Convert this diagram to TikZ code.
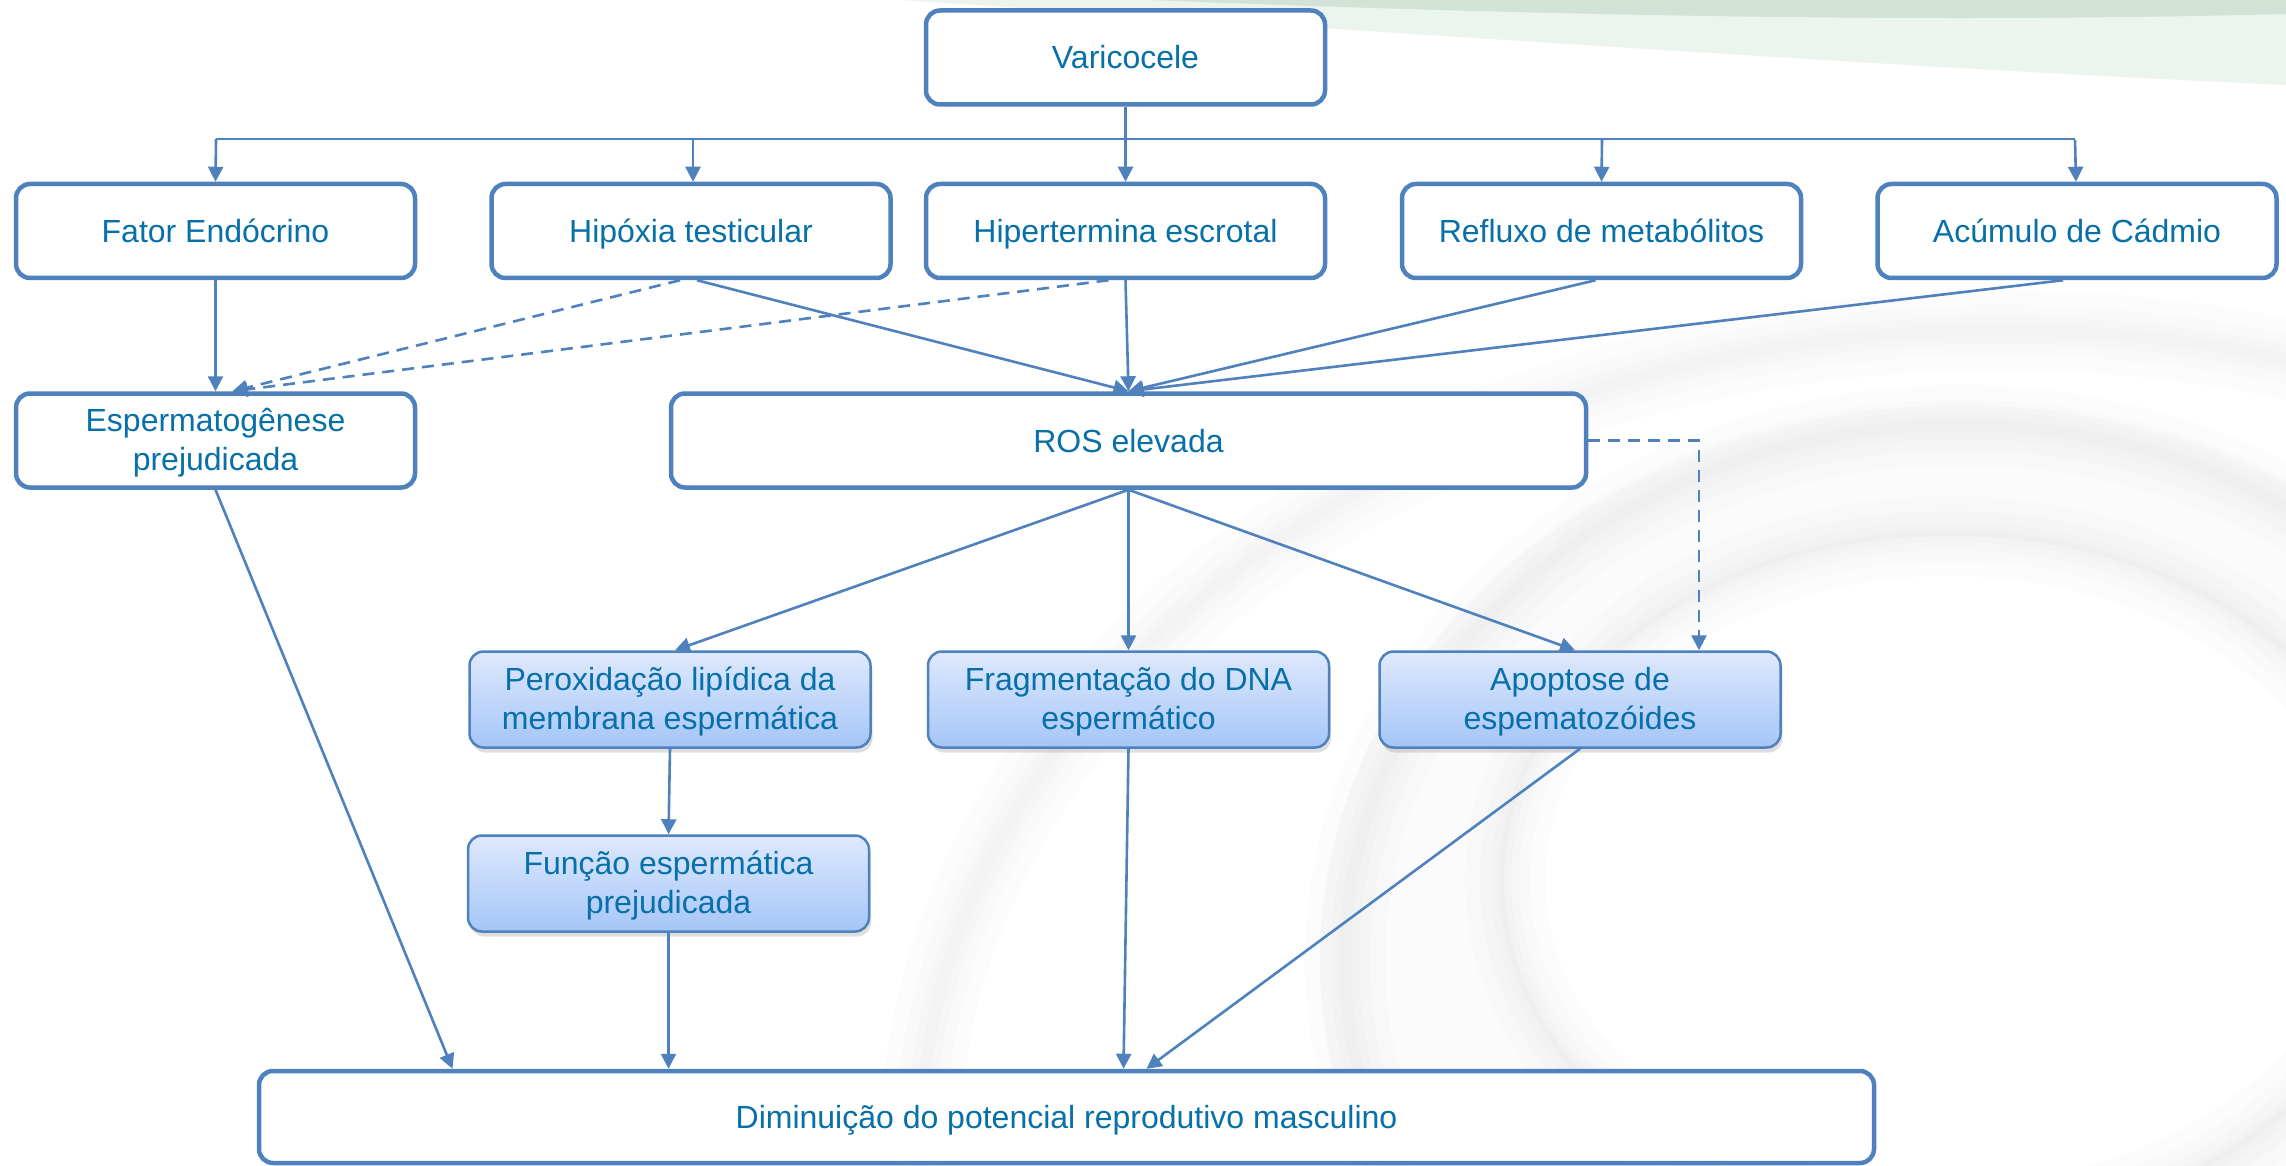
\documentclass[tikz,border=0pt]{standalone}
\usepackage{fontspec}
\setmainfont{Liberation Sans}
\usetikzlibrary{arrows.meta,shadows,calc}
\definecolor{boxblue}{RGB}{79,129,189}
\definecolor{txtblue}{RGB}{8,112,168}
\definecolor{gtop}{RGB}{222,233,252}
\definecolor{gbot}{RGB}{165,198,248}
\definecolor{bgreen}{RGB}{190,214,198}
\definecolor{lgreen}{RGB}{236,244,238}
\definecolor{rimgray}{RGB}{150,148,140}
\tikzset{
  base/.style={rounded corners=14pt, align=center, text=txtblue, inner sep=0pt,
    font=\fontsize{32}{38.4}\selectfont},
  one/.style={text height=23pt, text depth=0pt},
  two/.style={text height=59pt, text depth=0pt},
  topbox/.style={base, draw=boxblue, line width=4.5pt, fill=white,
    minimum width=399pt, minimum height=94pt},
  gradbox/.style={base, draw=boxblue, line width=2.5pt, top color=gtop, bottom color=gbot,
    minimum width=401pt, minimum height=96pt,
    drop shadow={opacity=0.25, shadow xshift=2pt, shadow yshift=-5pt}},
  conn/.style={draw=boxblue, line width=2.6pt, -{Triangle[length=15pt,width=15pt]}},
  dconn/.style={conn, dash pattern=on 12pt off 8pt},
  bar/.style={draw=boxblue, line width=2pt},
  rim/.style={draw=rimgray, draw opacity=0.022}
}
\begin{document}
\begin{tikzpicture}[x=1pt,y=-1pt]
\useasboundingbox (0,0) rectangle (2286,1166);
% background
\fill[white] (0,0) rectangle (2286,1166);
\begin{scope}
  \clip (0,0) rectangle (2286,1166);
  \fill[rimgray, opacity=0.03, even odd rule] (1960,960) ellipse [x radius=640, y radius=555]
       (1950,880) ellipse [x radius=445, y radius=344];
  \foreach \w in {80,50,28,12}{
    \draw[rim, line width=\w pt] (1960,960) ellipse [x radius=615, y radius=535];
    \draw[rim, line width=\w pt] (1950,880) ellipse [x radius=445, y radius=344];
    \draw[rim, line width=\w pt] (2000,1150) ellipse [x radius=1080, y radius=820];
  }
\end{scope}
\fill[lgreen] (900,0) .. controls (1500,40) and (1950,70) .. (2286,85) -- (2286,0) -- cycle;
\fill[bgreen!70] (1150,0) .. controls (1700,22) and (2050,20) .. (2286,14) -- (2286,0) -- cycle;
% nodes
\node[topbox, one] (var) at (1125.5,57.5) {Varicocele};
\node[topbox, one] (fat) at (215.5,231) {Fator Endócrino};
\node[topbox, one] (hip) at (691,231) {Hipóxia testicular};
\node[topbox, one] (hpt) at (1125.5,231) {Hipertermina escrotal};
\node[topbox, one] (ref) at (1601.5,231) {Refluxo de metabólitos};
\node[topbox, one] (acu) at (2077,231) {Acúmulo de Cádmio};
\node[topbox, two] (esp) at (215.5,440.5) {Espermatogênese\\prejudicada};
\node[topbox, one, minimum width=915pt] (ros) at (1128.5,440.5) {ROS elevada};
\node[gradbox, two] (per) at (670,699.5) {Peroxidação lipídica da\\membrana espermática};
\node[gradbox, two] (fra) at (1128.5,699.5) {Fragmentação do DNA\\espermático};
\node[gradbox, two] (apo) at (1580,699.5) {Apoptose de\\espematozóides};
\node[gradbox, two] (fun) at (668.5,883.5) {Função espermática\\prejudicada};
\node[topbox, one, minimum width=1615pt, minimum height=92pt] (dim) at (1066.5,1117) {Diminuição do potencial reprodutivo masculino};
% distribution bar
\coordinate (bl) at (216,139);
\coordinate (br) at (2075,139);
\draw[bar] (bl) -- (br);
\draw[conn] (var.south) -- (hpt.north);
\draw[conn] (bl) -- (fat.north);
\draw[conn] (693,140) -- ($(hip.north)+(2,0)$);
\draw[conn] (1602,140) -- (ref.north);
\draw[conn] (2075,140) -- ($(acu.north)+(-1,0)$);
% to espermatogenese
\coordinate (espin) at ($(esp.north)+(17,0)$);
\draw[conn] (fat.south) -- (esp.north);
\draw[dconn] ($(hip.south)+(-11,0)$) -- (espin);
\draw[dconn] ($(hpt.south)+(-17,0)$) -- (espin);
% to ROS
\draw[conn] ($(hip.south)+(6,0)$) -- (ros.north);
\draw[conn] (hpt.south) -- (ros.north);
\draw[conn] ($(ref.south)+(-6,0)$) -- (ros.north);
\draw[conn] ($(acu.south)+(-14,0)$) -- (ros.north);
% from ROS
\draw[dconn] (ros.east) -| ($(apo.north)+(119,0)$);
\draw[conn] (ros.south) -- ($(per.north)+(5,0)$);
\draw[conn] (ros.south) -- (fra.north);
\draw[conn] (ros.south) -- ($(apo.north)+(-5,0)$);
\draw[conn] (per.south) -- (fun.north);
% to bottom
\draw[conn] (fun.south) -- (fun.south |- dim.north);
\draw[conn] (esp.south) -- ($(dim.north)+(-614,0)$);
\draw[conn] (fra.south) -- ($(dim.north)+(57,0)$);
\draw[conn] (apo.south) -- ($(dim.north)+(80,0)$);
\end{tikzpicture}
\end{document}
